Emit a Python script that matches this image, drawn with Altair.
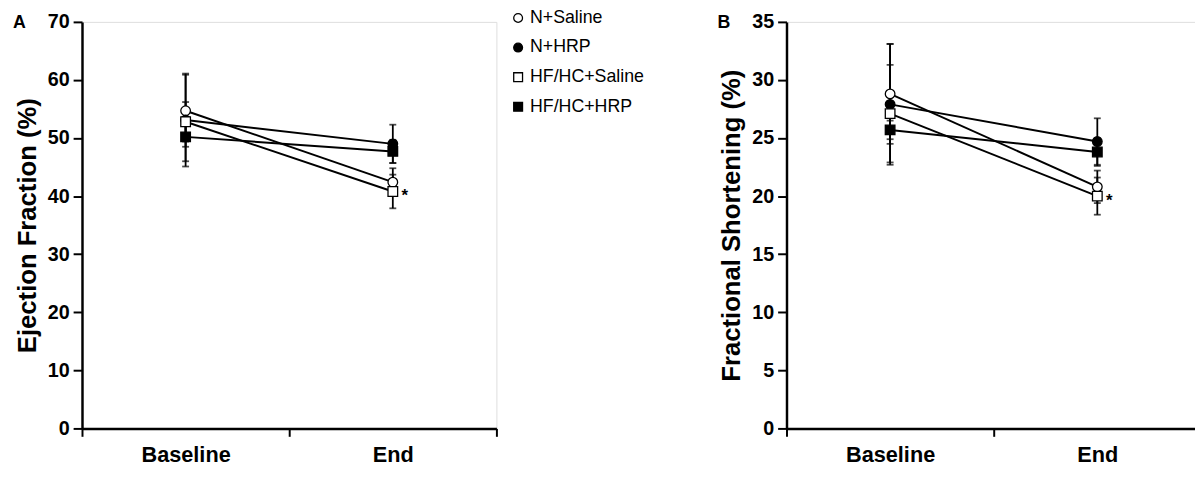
import altair as alt
import pandas as pd

groups = ["N+Saline", "N+HRP", "HF/HC+Saline", "HF/HC+HRP"]
times = ["Baseline", "End"]

ef_baseline = [54.7, 53.1, 52.8, 50.2]
ef_end = [42.4, 49.0, 40.8, 47.7]
ef_baseline_sd = [6.2, 8.0, 3.4, 4.2]
ef_end_sd = [2.4, 3.3, 2.9, 2.0]

fs_baseline = [28.8, 27.9, 27.1, 25.7]
fs_end = [20.8, 24.7, 20.0, 23.8]
fs_baseline_sd = [4.3, 5.2, 4.2, 0.8]
fs_end_sd = [1.4, 2.0, 1.6, 1.2]

star_group = "HF/HC+Saline"
star_time = "End"


def make_df(base, end, base_sd, end_sd):
    rows = []
    for i, g in enumerate(groups):
        for t, v, s in (("Baseline", base[i], base_sd[i]), ("End", end[i], end_sd[i])):
            rows.append({"group": g, "time": t, "value": v, "lo": v - s, "hi": v + s,
                         "star": "*" if (g == star_group and t == star_time) else ""})
    return pd.DataFrame(rows)


FONT = "Liberation Sans"


def panel(df, ymax, ystep, ytitle, letter, show_legend, width):
    X = alt.X("time:N",
              scale=alt.Scale(type="band", domain=times, paddingInner=0, paddingOuter=0),
              bandPosition=0.5,
              axis=alt.Axis(title=None, tickBand="extent", labelAngle=0, labelFont=FONT,
                            labelFontSize=22, labelFontWeight="bold", labelColor="black",
                            domainColor="black", domainWidth=2.5, tickColor="black",
                            tickWidth=2, tickSize=8, labelPadding=9, grid=False))
    Y = alt.Y("value:Q",
              scale=alt.Scale(domain=[0, ymax], nice=False, zero=True),
              axis=alt.Axis(title=ytitle, values=list(range(0, ymax + 1, ystep)),
                            labelFont=FONT, labelFontSize=20, labelFontWeight="bold",
                            labelColor="black", titleFont=FONT, titleFontSize=26,
                            titleFontWeight="bold", titleColor="black", titlePadding=7,
                            domainColor="black", domainWidth=2.5, tickColor="black",
                            tickWidth=2, tickSize=9, labelPadding=4, grid=False))
    base = alt.Chart(df)
    lines = base.mark_line(color="black", strokeWidth=2).encode(x=X, y=Y, detail="group:N")
    rules = base.mark_rule(color="black", strokeWidth=1.8).encode(x=X, y="lo:Q", y2="hi:Q")
    cap_lo = base.mark_tick(color="black", thickness=1.8, size=7, orient="horizontal").encode(x=X, y="lo:Q")
    cap_hi = base.mark_tick(color="black", thickness=1.8, size=7, orient="horizontal").encode(x=X, y="hi:Q")
    if show_legend:
        leg = alt.Legend(title=None, orient="none", legendX=433, legendY=-13,
                         labelFont=FONT, labelFontSize=18, labelColor="black",
                         symbolSize=80, symbolStrokeColor="black", symbolStrokeWidth=1.3,
                         rowPadding=12, labelOffset=3, padding=0)
    else:
        leg = None
    shape_kwargs = dict(scale=alt.Scale(domain=groups, range=["circle", "circle", "square", "square"]), legend=leg)
    fill_kwargs = dict(scale=alt.Scale(domain=groups, range=["white", "black", "white", "black"]), legend=leg)
    stroke_kwargs = dict(scale=alt.Scale(domain=groups, range=["black", "black", "black", "black"]), legend=leg)
    points = base.mark_point(filled=True, size=95, strokeWidth=1.3, opacity=1).encode(
        x=X, y=Y,
        shape=alt.Shape("group:N", **shape_kwargs),
        fill=alt.Fill("group:N", **fill_kwargs),
        stroke=alt.Stroke("group:N", **stroke_kwargs),
    )
    star = base.transform_filter(alt.datum.star != "").mark_text(
        fontSize=17, fontWeight="bold", font=FONT, color="black", dx=12, dy=5
    ).encode(x=X, y=Y, text="star:N")
    label = alt.Chart(pd.DataFrame({"t": [letter]})).mark_text(
        align="left", baseline="alphabetic", fontSize=18, fontWeight="bold", font=FONT, color="black"
    ).encode(x=alt.value(-70), y=alt.value(6), text="t:N")
    return alt.layer(lines, rules, cap_lo, cap_hi, points, star, label).properties(width=width, height=412)


df_ef = make_df(ef_baseline, ef_end, ef_baseline_sd, ef_end_sd)
df_fs = make_df(fs_baseline, fs_end, fs_baseline_sd, fs_end_sd)

pa = panel(df_ef, 70, 10, "Ejection Fraction (%)", "A", True, 420)
pb = panel(df_fs, 35, 5, "Fractional Shortening (%)", "B", False, 420)

chart = alt.hconcat(pa, pb, spacing=72).resolve_scale(
    shape="independent", fill="independent", stroke="independent"
).properties(
    padding={"left": 4, "top": -3, "right": -8, "bottom": -4}
).configure_view(stroke=None).configure(background="white")

chart.save("out.html", embed_options={"renderer": "svg", "actions": False})
